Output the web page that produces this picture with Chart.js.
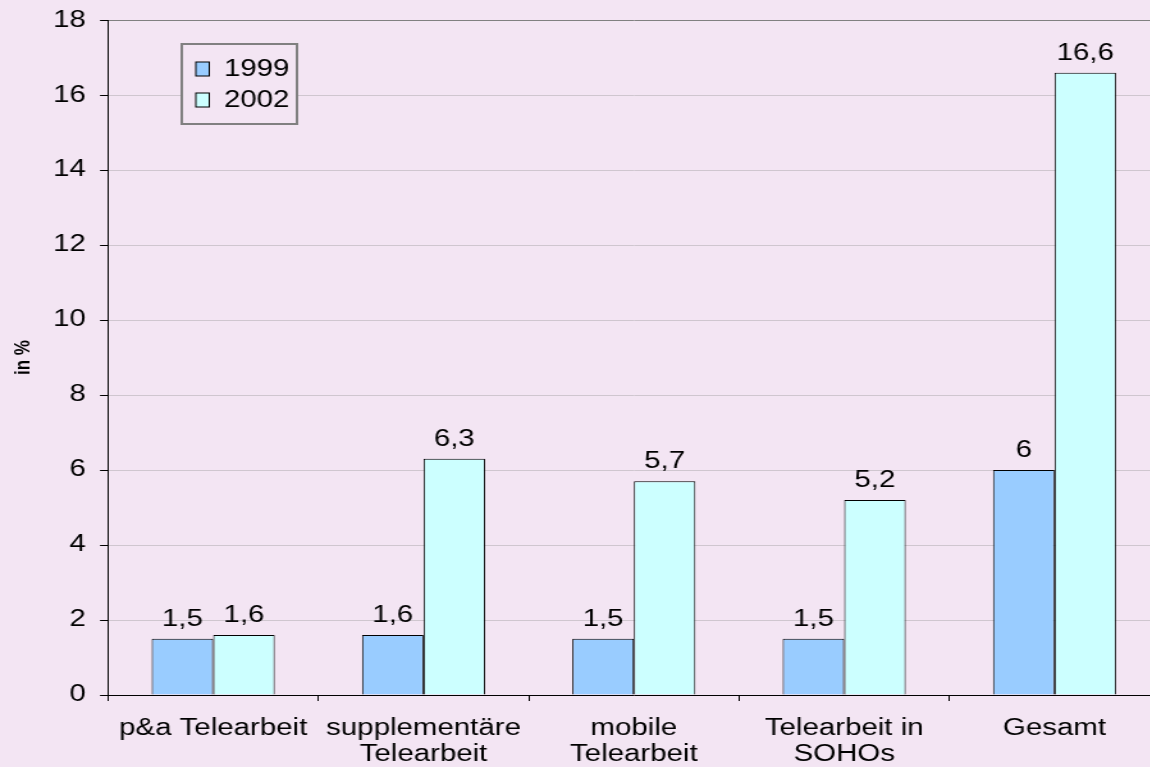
<!DOCTYPE html>
<html>
<head>
<meta charset="utf-8">
<script src="https://cdn.jsdelivr.net/npm/chart.js@4/dist/chart.umd.min.js"></script>
<style>
  html, body { margin: 0; padding: 0; background: #f3e5f3; overflow: hidden; }
  /* the original picture is stretched sideways, so the whole canvas is too */
  #wrap { width: 906px; height: 767px; transform: scaleX(1.28); transform-origin: 0 0; }
</style>
</head>
<body>
<div id="wrap"><canvas id="chart" width="906" height="767"></canvas></div>
<script>
const categories = [
  "p&a Telearbeit",
  ["supplementäre", "Telearbeit"],
  ["mobile", "Telearbeit"],
  ["Telearbeit in", "SOHOs"],
  "Gesamt",
];
const seriesLabels = ["1999", "2002"];
const values1999 = [1.5, 1.6, 1.5, 1.5, 6];
const values2002 = [1.6, 6.3, 5.7, 5.2, 16.6];
const yMin = 0;
const yMax = 18;
const yStep = 2;

const BG = "#f3e5f3";
const FONT = "'Liberation Sans', Arial, sans-serif";
const FS = 23;

const valueLabels = {
  id: "valueLabels",
  afterDatasetsDraw(chart) {
    const ctx = chart.ctx;
    ctx.save();
    ctx.font = `${FS}px ${FONT}`;
    ctx.fillStyle = "#000";
    ctx.textAlign = "center";
    ctx.textBaseline = "alphabetic";
    chart.data.datasets.forEach((ds, i) => {
      chart.getDatasetMeta(i).data.forEach((bar, j) => {
        const text = String(ds.data[j]).replace(".", ",");
        ctx.fillText(text, bar.x, bar.y - 13);
      });
    });
    ctx.restore();
  },
};

const boxLegend = {
  id: "boxLegend",
  afterDraw(chart) {
    const ctx = chart.ctx;
    ctx.save();
    ctx.fillStyle = BG;
    ctx.fillRect(142, 44, 90, 80);
    ctx.strokeStyle = "#808080";
    ctx.lineWidth = 2;
    ctx.strokeRect(142, 44, 90, 80);
    ctx.font = `${FS}px ${FONT}`;
    ctx.textBaseline = "middle";
    chart.data.datasets.forEach((ds, i) => {
      const cy = 69 + i * 31;
      ctx.fillStyle = ds.backgroundColor;
      ctx.fillRect(153, cy - 7, 10.5, 14);
      ctx.strokeStyle = "#000";
      ctx.lineWidth = 1;
      ctx.strokeRect(153, cy - 7, 10.5, 14);
      ctx.fillStyle = "#000";
      ctx.fillText(ds.label, 175, cy + 1);
    });
    ctx.restore();
  },
};

new Chart(document.getElementById("chart"), {
  type: "bar",
  data: {
    labels: categories,
    datasets: [
      {
        label: seriesLabels[0],
        data: values1999,
        backgroundColor: "#99ccff",
        borderColor: "#000",
        borderWidth: 1,
      },
      {
        label: seriesLabels[1],
        data: values2002,
        backgroundColor: "#ccffff",
        borderColor: "#000",
        borderWidth: 1,
      },
    ],
  },
  options: {
    responsive: false,
    animation: false,
    devicePixelRatio: 1,
    layout: { padding: { top: 20, left: 0, right: 0, bottom: 0 } },
    plugins: {
      legend: { display: false },
      tooltip: { enabled: false },
    },
    datasets: {
      bar: { categoryPercentage: 0.585, barPercentage: 1 },
    },
    scales: {
      x: {
        grid: {
          drawOnChartArea: false,
          tickLength: 6,
          tickColor: "#000",
        },
        border: { color: "#000", width: 1 },
        ticks: {
          color: "#000",
          padding: 14,
          maxRotation: 0,
          autoSkip: false,
          font: { family: FONT, size: FS, lineHeight: 1.15 },
        },
        afterFit(scale) {
          scale.height = 72;
        },
      },
      y: {
        min: yMin,
        max: yMax,
        ticks: {
          stepSize: yStep,
          color: "#000",
          padding: 11,
          font: { family: FONT, size: FS, lineHeight: 0.8 },
        },
        grid: {
          color: (c) => (c.tick && c.tick.value === yMax ? "#808080" : "#cfc6cf"),
          tickLength: 6.25,
          tickColor: "#000",
        },
        border: { color: "#000", width: 1 },
        title: {
          display: true,
          text: "in %",
          color: "#000",
          padding: { top: 8, bottom: 0 },
          font: { family: FONT, size: 17, weight: "bold" },
        },
        afterFit(scale) {
          scale.width = 84.4;
        },
      },
    },
  },
  plugins: [valueLabels, boxLegend],
});
</script>
</body>
</html>
